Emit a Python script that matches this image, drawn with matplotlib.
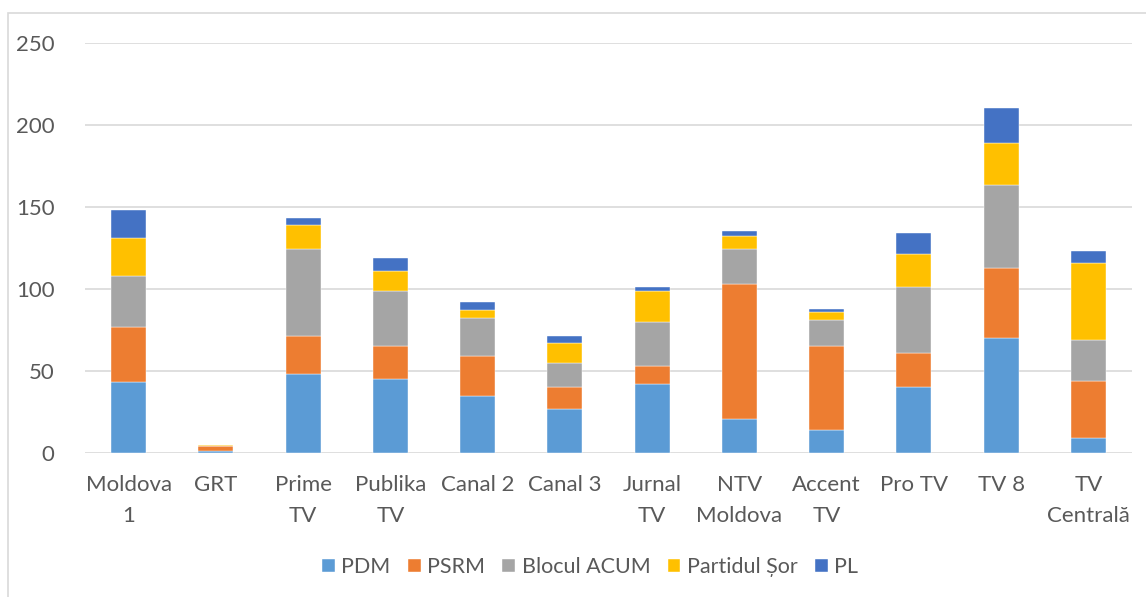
import matplotlib
matplotlib.use("Agg")
import matplotlib.pyplot as plt
from matplotlib.patches import Rectangle
import numpy as np

plt.rcParams['font.family'] = ['Lato', 'DejaVu Sans']

categories = ["Moldova\n1", "GRT", "Prime\nTV", "Publika\nTV", "Canal 2", "Canal 3",
              "Jurnal\nTV", "NTV\nMoldova", "Accent\nTV", "Pro TV", "TV 8", "TV\nCentrală"]
series_names = ["PDM", "PSRM", "Blocul ACUM", "Partidul Șor", "PL"]
pdm   = [43, 1, 48, 45, 35, 27, 42, 21, 14, 40, 70, 9]
psrm  = [34, 3, 23, 20, 24, 13, 11, 82, 51, 21, 43, 35]
acum  = [31, 0, 53, 34, 23, 15, 27, 21, 16, 40, 50, 25]
sor   = [23, 1, 15, 12, 5, 12, 19, 8, 5, 20, 26, 47]
pl    = [17, 0, 4, 8, 5, 4, 2, 3, 2, 13, 21, 7]
colors = ["#5B9BD5", "#ED7D31", "#A5A5A5", "#FFC000", "#4472C4"]
yticks = [0, 50, 100, 150, 200, 250]

W, H = 1146, 597
fig = plt.figure(figsize=(W / 100, H / 100), dpi=100)
fig.patches.append(Rectangle((8 / W, -0.1), 1.2, 1 - 13 / H + 0.1, transform=fig.transFigure,
                             fill=False, edgecolor="#D9D9D9", linewidth=1.2, zorder=0))
ax = fig.add_axes([85 / W, 1 - 453 / H, (1132 - 85) / W, (453 - 42.7) / H])

x = np.arange(len(categories))
bottom = np.zeros(len(categories))
for name, vals, c in zip(series_names, [pdm, psrm, acum, sor, pl], colors):
    v = np.array(vals, dtype=float)
    ax.bar(x, v, 0.4, bottom=bottom, color=c, label=name, edgecolor="#FFFFFF",
           linewidth=0.3, zorder=3)
    bottom += v

ax.set_xlim(-0.5, len(categories) - 0.5)
ax.set_ylim(0, 250)
ax.set_yticks(yticks)
ax.set_xticks(x)
ax.set_xticklabels(categories, linespacing=1.65)
ax.grid(axis="y", color="#D9D9D9", linewidth=1.2, zorder=0)
for s in ax.spines.values():
    s.set_visible(False)
ax.tick_params(axis="both", length=0, labelsize=16, colors="#595959")
ax.tick_params(axis="y", pad=22)
ax.tick_params(axis="x", pad=16)

fig.legend(loc="center", bbox_to_anchor=(590 / W, 1 - 567 / H), ncol=5, frameon=False,
           fontsize=15.5, labelcolor="#595959", handlelength=0.6, handleheight=0.6,
           handletextpad=0.3, columnspacing=0.8)

fig.savefig("out.png", dpi=100, facecolor="white")
